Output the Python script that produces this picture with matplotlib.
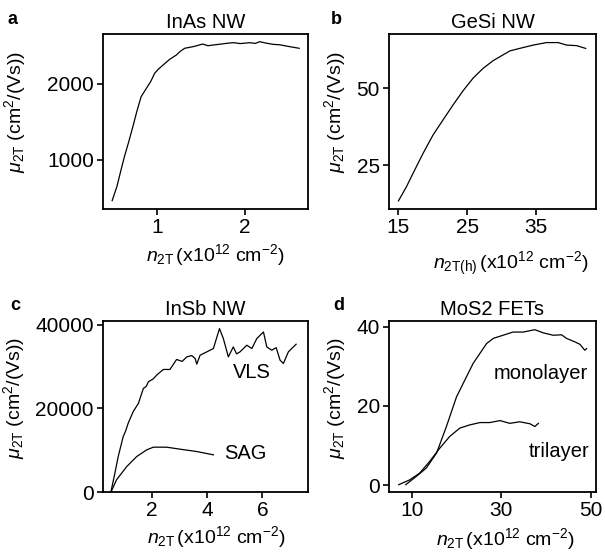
import matplotlib
matplotlib.use("Agg")
import matplotlib.pyplot as plt

plt.rcParams['font.family'] = ['Liberation Sans', 'DejaVu Sans']
plt.rcParams['mathtext.fontset'] = 'custom'
plt.rcParams['mathtext.rm'] = 'Liberation Sans'
plt.rcParams['mathtext.it'] = 'Liberation Sans:italic'
plt.rcParams['mathtext.bf'] = 'Liberation Sans:bold'

# InAs nanowire
inas_n = [0.49, 0.544, 0.59, 0.63, 0.68, 0.726, 0.77, 0.82, 0.88, 0.93, 0.974, 1.02, 1.07,
          1.145, 1.22, 1.27, 1.316, 1.41, 1.47, 1.52, 1.58, 1.64, 1.72, 1.80, 1.87, 1.95,
          2.06, 2.12, 2.17, 2.24, 2.32, 2.40, 2.47, 2.55, 2.62]
inas_mu = [461, 645, 860, 1040, 1240, 1434, 1630, 1829, 1939, 2030, 2137, 2195, 2246,
           2320, 2377, 2430, 2466, 2487, 2505, 2522, 2500, 2509, 2520, 2532, 2540, 2528,
           2540, 2530, 2553, 2535, 2518, 2512, 2496, 2480, 2466]

# GeSi nanowire
gesi_n = [15.0, 16.16, 17.37, 18.58, 20.03, 21.48, 22.94, 24.39, 25.84, 27.3, 28.75,
          30.2, 31.2, 32.6, 34.6, 36.5, 38.2, 39.4, 40.9, 42.2]
gesi_mu = [13.3, 17.9, 23.4, 28.8, 34.8, 39.7, 44.6, 49.2, 53.3, 56.5, 59.0,
           60.9, 62.2, 63.0, 64.1, 64.9, 64.9, 64.1, 63.9, 63.0]

# InSb nanowire
vls_n = [0.53, 0.67, 0.79, 0.97, 1.06, 1.15, 1.33, 1.52, 1.70, 1.80, 1.88, 2.05, 2.18,
         2.42, 2.66, 2.9, 3.1, 3.27, 3.45, 3.57, 3.63, 3.75, 3.99, 4.23, 4.45, 4.59,
         4.77, 4.95, 5.07, 5.19, 5.44, 5.62, 5.8, 6.04, 6.16, 6.34, 6.5, 6.64, 6.76,
         6.94, 7.12, 7.22]
vls_mu = [140, 4520, 8480, 13240, 14600, 16430, 19190, 21190, 24760, 25200, 26340, 27000, 27930,
          29280, 29280, 31670, 31200, 32290, 32600, 31900, 30550, 32690, 33480, 34280, 39040, 36670,
          32290, 34670, 33000, 33480, 35070, 34280, 36670, 38240, 34670, 33880, 34500, 31500, 30710,
          33480, 34670, 35310]
sag_n = [0.53, 0.73, 1.1, 1.46, 1.82, 2.06, 2.54, 3.02, 3.63, 4.23]
sag_mu = [0, 2930, 6100, 8480, 10070, 10710, 10710, 10240, 9670, 8880]

# MoS2 FETs
mono_n = [8.59, 10.99, 13.2, 15.5, 17.7, 19.96, 22.2, 23.7, 25.2, 26.7, 28.2, 30.4, 32.6,
          34.9, 37.5, 39.4, 41.6, 43.5, 44.6, 46.5, 47.6, 48.7, 49.1]
mono_mu = [0.08, 2.2, 4.3, 8.1, 14.8, 22.3, 27.4, 30.8, 33.3, 35.8, 37.1, 37.9, 38.7,
           38.7, 39.3, 38.5, 37.9, 38.0, 37.1, 36.2, 35.6, 34.1, 34.5]
tri_n = [7.02, 9.48, 11.7, 13.97, 16.2, 18.45, 20.7, 22.9, 25.2, 27.4, 29.7, 31.9,
         34.1, 36.4, 37.5, 38.3]
tri_mu = [0.08, 1.3, 3.0, 6.0, 9.3, 12.3, 14.4, 15.2, 15.8, 15.8, 16.3, 15.6,
          16.0, 15.5, 14.8, 15.6]

xlabel_n = r'$\mathit{n}_{\mathrm{2T}}\,$(x10$^{12}$ cm$^{-2}$)'
xlabel_nh = r'$\mathit{n}_{\mathrm{2T(h)}}\,$(x10$^{12}$ cm$^{-2}$)'
ylabel_mu = r'$\mathit{μ}_{\mathrm{2T}}$ (cm$^{2}$/(Vs))'

TITLE_FS = 14.5
LABEL_FS = 14
TICK_FS = 15
NOTE_FS = 14.5

fig = plt.figure(figsize=(6.05, 5.53), dpi=100)
W, H = 605, 553


def make_axes(x0, y0, x1, y1):
    return fig.add_axes([x0 / W, 1 - y1 / H, (x1 - x0) / W, (y1 - y0) / H])


axa = make_axes(103, 34, 308, 209)
axb = make_axes(389, 34, 596, 209)
axc = make_axes(103, 321, 308, 492)
axd = make_axes(389, 321, 596, 492)

lw = 0.9
axa.plot(inas_n, inas_mu, color='black', lw=lw)
axa.set_xlim(0.386, 2.72)
axa.set_ylim(351, 2654)
axa.set_xticks([1, 2])
axa.set_yticks([1000, 2000])
axa.set_title('InAs NW', fontsize=TITLE_FS, pad=4)
axa.set_xlabel(xlabel_n, fontsize=LABEL_FS)
axa.set_ylabel(ylabel_mu, fontsize=LABEL_FS)

axb.plot(gesi_n, gesi_mu, color='black', lw=lw)
axb.set_xlim(13.63, 43.7)
axb.set_ylim(10.66, 67.7)
axb.set_xticks([15, 25, 35])
axb.set_yticks([25, 50])
axb.set_title('GeSi NW', fontsize=TITLE_FS, pad=4)
axb.set_xlabel(xlabel_nh, fontsize=LABEL_FS)
axb.set_ylabel(ylabel_mu, fontsize=LABEL_FS)

axc.plot(vls_n, vls_mu, color='black', lw=lw)
axc.plot(sag_n, sag_mu, color='black', lw=lw)
axc.set_xlim(0.24, 7.65)
axc.set_ylim(0, 40860)
axc.set_xticks([2, 4, 6])
axc.set_yticks([0, 20000, 40000])
axc.set_title('InSb NW', fontsize=TITLE_FS, pad=4)
axc.set_xlabel(xlabel_n, fontsize=LABEL_FS)
axc.set_ylabel(ylabel_mu, fontsize=LABEL_FS)
axc.text(5.62, 28480, 'VLS', fontsize=NOTE_FS, ha='center', va='center')
axc.text(5.37, 9290, 'SAG', fontsize=NOTE_FS, ha='center', va='center')

axd.plot(mono_n, mono_mu, color='black', lw=lw)
axd.plot(tri_n, tri_mu, color='black', lw=lw)
axd.set_xlim(4.84, 51.2)
axd.set_ylim(-1.77, 41.5)
axd.set_xticks([10, 30, 50])
axd.set_yticks([0, 20, 40])
axd.set_title('MoS2 FETs', fontsize=TITLE_FS, pad=4)
axd.set_xlabel(xlabel_n, fontsize=LABEL_FS)
axd.set_ylabel(ylabel_mu, fontsize=LABEL_FS)
axd.text(38.8, 28.2, 'monolayer', fontsize=NOTE_FS, ha='center', va='center')
axd.text(43.0, 8.5, 'trilayer', fontsize=NOTE_FS, ha='center', va='center')

# axis label placement (axes coordinates)
axa.xaxis.set_label_coords(0.549, -0.19)
axb.xaxis.set_label_coords(0.589, -0.235)
axc.xaxis.set_label_coords(0.551, -0.19)
axd.xaxis.set_label_coords(0.56, -0.2)
axa.yaxis.set_label_coords(-0.366, 0.554)
axb.yaxis.set_label_coords(-0.198, 0.554)
axc.yaxis.set_label_coords(-0.371, 0.55)
axd.yaxis.set_label_coords(-0.198, 0.55)

for ax in (axa, axb, axc, axd):
    for sp in ax.spines.values():
        sp.set_linewidth(1.3)
    ax.tick_params(direction='out', length=4, width=1.2, labelsize=TICK_FS, pad=2.5)

for letter, x, y in (('a', 12, 20), ('b', 336, 20), ('c', 15, 305), ('d', 339, 305)):
    fig.text(x / W, 1 - y / H, letter, fontsize=13, fontweight='bold',
             ha='center', va='center')

fig.savefig('out.png', dpi=100)
